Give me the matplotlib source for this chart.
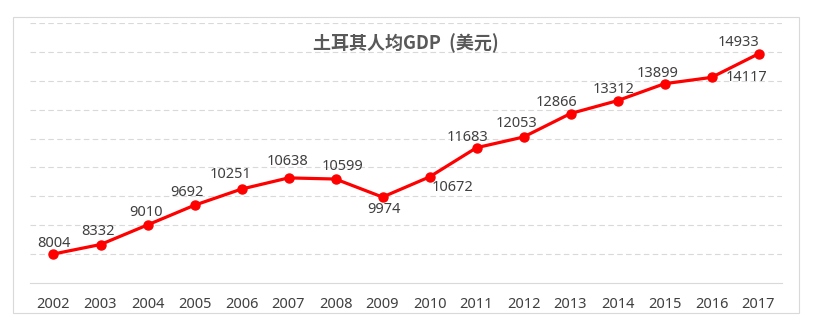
import numpy as np
import matplotlib
matplotlib.use("Agg")
from matplotlib import pyplot as plt
from matplotlib.patches import Rectangle

years = ["2002", "2003", "2004", "2005", "2006", "2007", "2008", "2009",
         "2010", "2011", "2012", "2013", "2014", "2015", "2016", "2017"]
gdp = [8004, 8332, 9010, 9692, 10251, 10638, 10599, 9974,
       10672, 11683, 12053, 12866, 13312, 13899, 14117, 14933]
title = "土耳其人均GDP  (美元)"

# label offsets in pixels (dx, dy), dy positive = up
label_offsets = [(0, 10), (-2, 13), (-2, 12), (-8, 13), (-11, 15), (-1, 16),
                 (7, 13), (1, -12), (23, -11), (-9, 10), (-7, 14), (-14, 11),
                 (-4, 11), (-7, 10), (35, 0), (-20, 11)]

grey = "#595959"
text_c = "#404040"
grid_c = "#D9D9D9"

W, H = 820, 328
fig = plt.figure(figsize=(W / 100, H / 100), dpi=100)
fig.patch.set_facecolor("white")

# outer chart border
fig.add_artist(Rectangle((13 / W, 1 - 313 / H), 786 / W, 296 / H,
                         transform=fig.transFigure, fill=False,
                         edgecolor=grid_c, linewidth=0.8))

ax = fig.add_axes([30 / W, 1 - 283 / H, 752 / W, 260 / H])
x = np.arange(len(years))

ax.set_xlim(-0.5, len(years) - 0.5)
ax.set_ylim(7000, 16000)
for yv in range(8000, 16001, 1000):
    ax.axhline(yv, color=grid_c, linewidth=0.8, linestyle=(0, (5, 3)), zorder=1)

ax.plot(x, gdp, color="#FF0000", linewidth=2.3, marker="o", markersize=6.5,
        zorder=3, clip_on=False)

for xi, v, (dx, dy) in zip(x, gdp, label_offsets):
    ax.annotate(str(v), (xi, v), xytext=(dx * 0.72, dy * 0.72),
                textcoords="offset points", ha="center", va="center",
                fontsize=10.5, color=text_c, family="Noto Sans")

for s in ["left", "right", "top"]:
    ax.spines[s].set_visible(False)
ax.spines["bottom"].set_color(grid_c)
ax.spines["bottom"].set_linewidth(0.8)
ax.set_yticks([])
ax.set_xticks(x)
ax.set_xticklabels(years, fontsize=10.5, color=text_c, family="Noto Sans")
ax.tick_params(axis="x", length=0, pad=10)

fig.text(406 / W, 1 - 43 / H, title, ha="center", va="center", fontsize=13,
         fontweight="bold", color=grey,
         family=["Noto Sans CJK SC", "DejaVu Sans"])

plt.savefig("out.png", dpi=100, facecolor="white")
